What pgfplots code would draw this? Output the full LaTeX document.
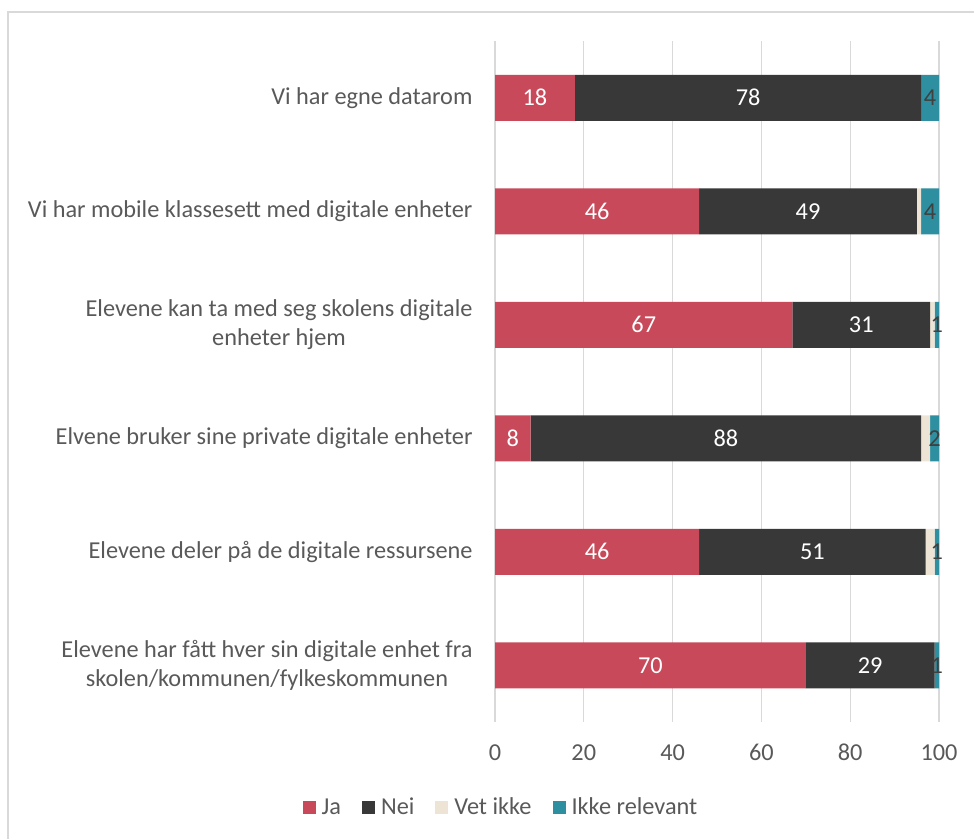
\documentclass[border=0pt]{standalone}
\usepackage{fontspec}
\setmainfont{Carlito}
\usepackage{pgfplots}
\usepackage{pgfplotstable}
\pgfplotsset{compat=1.18}
\definecolor{ja}{HTML}{C84A5A}
\definecolor{nei}{HTML}{383838}
\definecolor{vet}{HTML}{EEE4D6}
\definecolor{ikke}{HTML}{2E8FA0}
\definecolor{txt}{HTML}{595959}
\definecolor{lbl}{HTML}{404040}
\definecolor{grd}{HTML}{D9D9D9}

\pgfplotstableread{
idx Ja Nei Vet Ikke
0 18 78 0 4
1 46 49 1 4
2 67 31 1 1
3 8 88 2 2
4 46 51 2 1
5 70 29 0 1
}\data
% label positions: centre of each segment
\pgfplotstablecreatecol[create col/expr={\thisrow{Ja}/2}]{cJa}\data
\pgfplotstablecreatecol[create col/expr={\thisrow{Ja}+\thisrow{Nei}/2}]{cNei}\data
\pgfplotstablecreatecol[create col/expr={\thisrow{Ja}+\thisrow{Nei}+\thisrow{Vet}+\thisrow{Ikke}/2}]{cIkke}\data

\newcommand{\fnt}{\fontsize{24.3}{28.5}\selectfont}

\pgfplotsset{common/.style={
  at={(495pt,117pt)}, anchor=south west,
  scale only axis, width=444pt, height=681pt,
  xmin=0, xmax=100, ymin=-0.5, ymax=5.5,
  y dir=reverse,
  /pgf/number format/assume math mode=true}}

\begin{document}
\begin{tikzpicture}
\useasboundingbox (0pt,0pt) rectangle (974pt,839pt);
\draw[grd, line width=1.2pt] (8pt,0pt) -- (8pt,827pt) -- (974pt,827pt);
\begin{axis}[
  common,
  xbar stacked, bar width=46pt,
  ytick={0,...,5},
  yticklabels={Vi har egne datarom,
    Vi har mobile klassesett med digitale enheter,
    Elevene kan ta med seg skolens digitale\\enheter hjem,
    Elvene bruker sine private digitale enheter,
    Elevene deler på de digitale ressursene,
    Elevene har fått hver sin digitale enhet fra\\skolen/kommunen/fylkeskommunen},
  xtick={0,20,...,100},
  xmajorgrids, grid style={grd, line width=1.3pt},
  axis line style={draw=none},
  major tick length=0pt,
  tick label style={font=\fnt, text=txt},
  xticklabel style={anchor=base, yshift=-38.5pt},
  yticklabel style={align=center, xshift=-19pt},
  legend columns=-1,
  legend style={at={(0.0135,-0.1248)}, anchor=center, draw=none, fill=none,
    font=\fnt, text=txt,
    /tikz/every odd column/.append style={column sep=4pt},
    /tikz/every even column/.append style={column sep=19pt}},
  legend image code/.code={\fill[#1] (0pt,-6.5pt) rectangle (13pt,6.5pt);},
]
\addplot[fill=ja, draw=none] table[x=Ja, y=idx]{\data};
\addplot[fill=nei, draw=none] table[x=Nei, y=idx]{\data};
\addplot[fill=vet, draw=none] table[x=Vet, y=idx]{\data};
\addplot[fill=ikke, draw=none] table[x=Ikke, y=idx]{\data};
\legend{Ja, Nei, Vet ikke, Ikke relevant}
\end{axis}
\begin{axis}[common, hide axis,
  nodes near coords style={anchor=center, font=\fnt, inner sep=0pt,
    /pgf/number format/assume math mode=true}]
\addplot[only marks, mark=none, point meta=explicit, nodes near coords,
  nodes near coords style={text=white}] table[x=cJa, y=idx, meta=Ja]{\data};
\addplot[only marks, mark=none, point meta=explicit, nodes near coords,
  nodes near coords style={text=white}] table[x=cNei, y=idx, meta=Nei]{\data};
\addplot[only marks, mark=none, point meta=explicit, nodes near coords,
  nodes near coords style={text=lbl}] table[x=cIkke, y=idx, meta=Ikke]{\data};
\end{axis}
\end{tikzpicture}
\end{document}
